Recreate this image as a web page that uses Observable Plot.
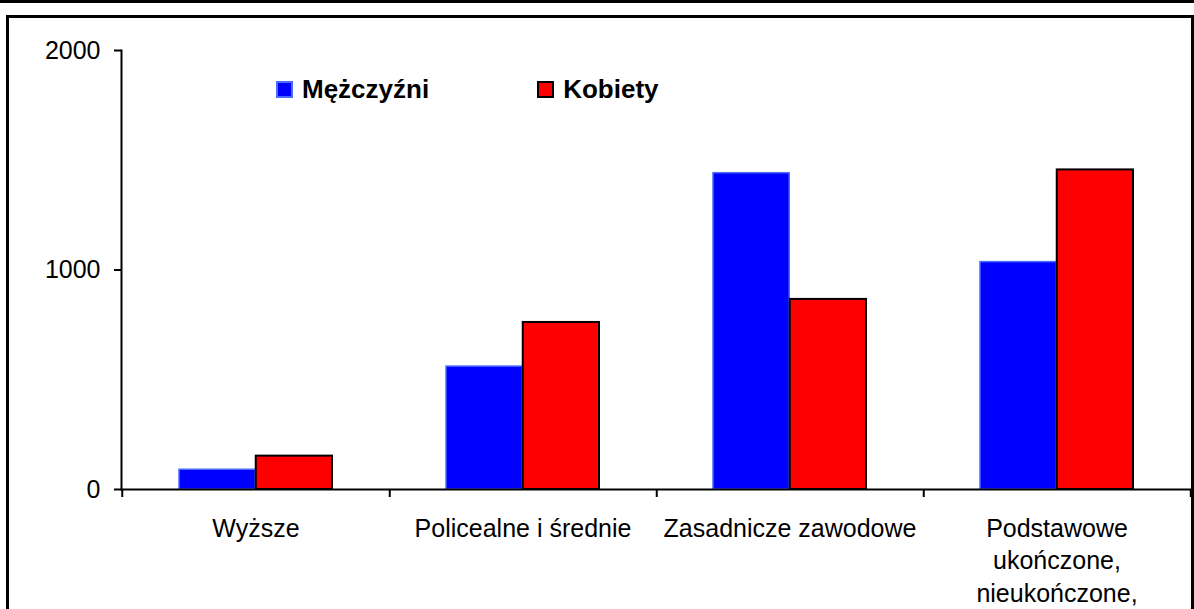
<!DOCTYPE html>
<html>
<head>
<meta charset="utf-8">
<script src="https://cdn.jsdelivr.net/npm/d3@7"></script>
<script src="https://cdn.jsdelivr.net/npm/@observablehq/plot@0.6"></script>
<style>
  html, body { margin: 0; padding: 0; background: #fff; }
  #wrap { position: relative; width: 1194px; height: 609px; overflow: hidden; font-family: "Liberation Sans", Arial, sans-serif; }
  #topline { position: absolute; left: 0; top: 0; width: 1194px; height: 3px; background: #000; }
  #box { position: absolute; left: 6px; top: 15px; width: 1188px; height: 620px; border: 3px solid #000; box-sizing: border-box; }
  #chart { position: absolute; left: 0; top: 0; }
  #legend { position: absolute; top: 74px; left: 276px; display: flex; font-weight: bold; font-size: 26px; color: #000; }
  .item { display: flex; align-items: center; }
  .sw { width: 17px; height: 17px; display: inline-block; margin-right: 9px; box-sizing: border-box; }
</style>
</head>
<body>
<div id="wrap">
  <div id="topline"></div>
  <div id="box"></div>
  <div id="chart"></div>
  <div id="legend"></div>
</div>
<script>
const categories = ["Wyższe", "Policealne i średnie", "Zasadnicze zawodowe", "Podstawowe ukończone, nieukończone,"];
const categoryLabels = ["Wyższe", "Policealne i średnie", "Zasadnicze zawodowe", "Podstawowe\nukończone,\nnieukończone,"];
const seriesNames = ["Mężczyźni", "Kobiety"];
const men = [90, 560, 1441, 1036];
const women = [152, 761, 866, 1456];
const yTicks = [0, 1000, 2000];

const menData = categories.map((c, i) => ({category: c, value: men[i]}));
const womenData = categories.map((c, i) => ({category: c, value: women[i]}));
const labelOf = new Map(categories.map((c, i) => [c, categoryLabels[i]]));

const W = 1194, H = 609;
const mL = 121, mR = 3, mT = 50, mB = 120;
const bandW = (W - mL - mR) / categories.length;
const outer = 57, barW = (bandW - 2 * outer) / 2;
const tickLen = 8;
const pxPerUnit = (H - mT - mB) / 2000;

const chart = Plot.plot({
  width: W,
  height: H,
  marginLeft: mL,
  marginRight: mR,
  marginTop: mT,
  marginBottom: mB,
  style: {fontFamily: "'Liberation Sans', Arial, sans-serif", fontSize: "25px", color: "#000", background: "transparent"},
  x: {type: "band", domain: categories, padding: 0, label: null},
  y: {domain: [0, 2000], label: null},
  marks: [
    Plot.barY(menData, {x: "category", y: "value", fill: "#0000ff", stroke: "#4a6cff", strokeWidth: 1.5,
      insetLeft: outer, insetRight: outer + barW}),
    Plot.barY(womenData, {x: "category", y: "value", fill: "#ff0000", stroke: "#000", strokeWidth: 2,
      insetLeft: outer + barW, insetRight: outer}),
    Plot.frame({anchor: "left", stroke: "#000", strokeWidth: 2}),
    Plot.frame({anchor: "bottom", stroke: "#000", strokeWidth: 2}),
    Plot.ruleX(categories, {x: d => d, y1: 0, y2: -tickLen / pxPerUnit, dx: bandW / 2, stroke: "#000", strokeWidth: 2}),
    Plot.ruleX(categories.slice(0, 1), {x: d => d, y1: 0, y2: -tickLen / pxPerUnit, dx: -bandW / 2, stroke: "#000", strokeWidth: 2}),
    Plot.axisY({ticks: yTicks, tickSize: 7, tickPadding: 14, tickFormat: d => String(d), stroke: "#000", strokeWidth: 2, fontSize: 25}),
    Plot.axisX({tickSize: 0, tickPadding: 24, tickFormat: d => labelOf.get(d), lineHeight: 1.3, fontSize: 25})
  ]
});
document.getElementById("chart").appendChild(chart);

const legend = document.getElementById("legend");
const legendStyles = [
  {fill: "#0000ff", border: "2px solid #4a6cff", gap: "108px"},
  {fill: "#ff0000", border: "2px solid #000", gap: "0"}
];
seriesNames.forEach((name, i) => {
  const item = document.createElement("div");
  item.className = "item";
  item.style.marginRight = legendStyles[i].gap;
  const sw = document.createElement("span");
  sw.className = "sw";
  sw.style.background = legendStyles[i].fill;
  sw.style.border = legendStyles[i].border;
  item.appendChild(sw);
  const t = document.createElement("span");
  t.textContent = name;
  item.appendChild(t);
  legend.appendChild(item);
});
</script>
</body>
</html>
